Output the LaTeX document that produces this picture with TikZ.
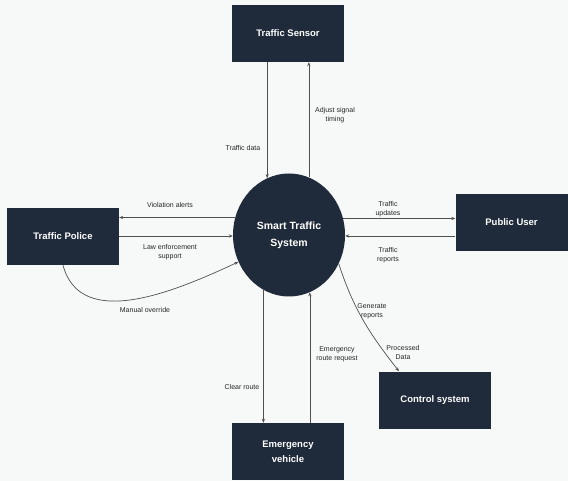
\documentclass[tikz,border=0pt]{standalone}
\usepackage{fontspec}
\setmainfont{Liberation Sans}
\usepackage{tikz}
\usetikzlibrary{arrows.meta,shapes.geometric,positioning}
\definecolor{navy}{HTML}{1F2A3A}
\definecolor{flowgray}{HTML}{505050}
\definecolor{bggray}{HTML}{F7F8F8}
\tikzset{
  ent_b/.style = {rectangle, fill=navy, text=white, align=center, inner sep=0pt,
    font=\fontsize{9.5}{15}\selectfont\bfseries,
    minimum width=112pt, minimum height=57pt},% entity box
  proc_c/.style = {ellipse, fill=navy, text=white, align=center, inner sep=0pt,
    font=\fontsize{10.5}{17}\selectfont\bfseries,
    minimum width=112pt, minimum height=123pt},% process
  flow_l/.style = {align=center, inner sep=1pt, text=black!85,
    font=\fontsize{7}{9}\selectfont},% flow label
  flow/.style = {draw=flowgray, line width=0.7pt,
    -{Stealth[length=4pt,width=3.2pt]}}
}

\begin{document}
\begin{tikzpicture}[x=1pt,y=-1pt]
\fill [bggray] (0,0) rectangle (568,481);
\useasboundingbox (0,0) rectangle (568,481);

\node [proc_c] (sys) at (289,235) {Smart Traffic\\System};
\node [ent_b] (sensor) at (288,33.5) {Traffic Sensor};
\node [ent_b] (police) at (63,236.5) {Traffic Police};
\node [ent_b] (user) at (511.5,222.5) {Public User};
\node [ent_b] (ctrl) at (435,400) {Control system};
\node [ent_b] (ev) at (288,451.5) {Emergency\\vehicle};

% sensor
\draw [flow] (sys.111 |- sensor.south) -- (sys.111);
\draw [flow] (sys.71) -- (sys.71 |- sensor.south);
% police
\draw [flow] (sys.162) -- (sys.162 -| police.east);
\draw [flow] (sys.181 -| police.east) -- (sys.181);
\draw [flow] (police.south) to[out=-75,in=205] (sys.208);
% public user
\draw [flow] (sys.17) -- (sys.17 -| user.west);
\draw [flow] (sys.359 -| user.west) -- (sys.359);
% emergency vehicle
\draw [flow] (sys.245) -- (sys.245 |- ev.north);
\draw [flow] (sys.290 |- ev.north) -- (sys.290);
% control system
\draw [flow] (sys.330) to[out=-72,in=128] ([xshift=-36pt]ctrl.north);

\node [flow_l] (l_tdata) at (243,148) {Traffic data};
\node [flow_l] (l_adjust) at (335,115) {Adjust signal\\timing};
\node [flow_l] (l_viol) at (170,205) {Violation alerts};
\node [flow_l] (l_law) at (170,252) {Law enforcement\\support};
\node [flow_l] (l_manual) at (145,310) {Manual override};
\node [flow_l] (l_upd) at (388,209) {Traffic\\updates};
\node [flow_l] (l_rep) at (388,255) {Traffic\\reports};
\node [flow_l] (l_clear) at (242,387) {Clear route};
\node [flow_l] (l_emreq) at (337,354) {Emergency\\route request};
\node [flow_l] (l_gen) at (372,311) {Generate\\reports};
\node [flow_l] (l_proc) at (403,352) {Processed\\Data};
\end{tikzpicture}
\end{document}
